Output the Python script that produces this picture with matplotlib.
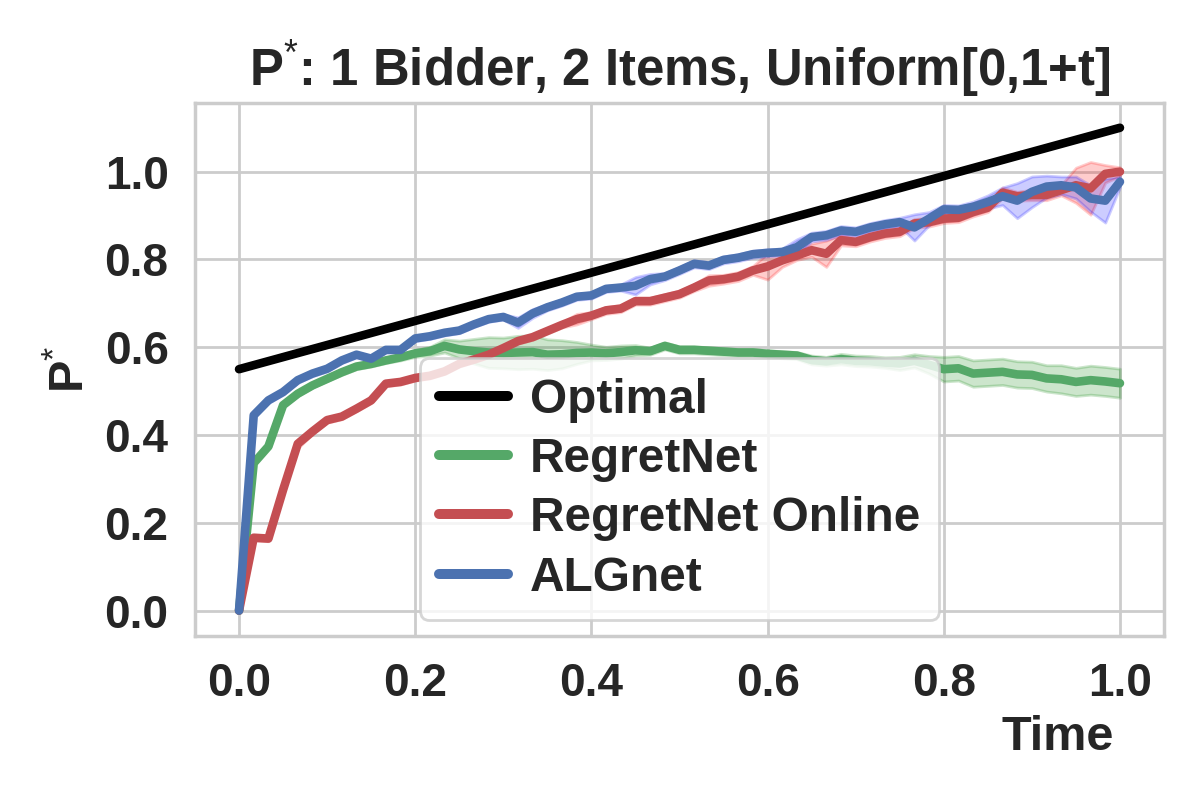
import numpy as np
import matplotlib
matplotlib.use("Agg")
import matplotlib.pyplot as plt
import seaborn as sns

sns.set_theme(style="whitegrid")
plt.rcParams['font.family'] = ['Liberation Sans', 'DejaVu Sans']
plt.rcParams['mathtext.fontset'] = 'custom'
plt.rcParams['mathtext.rm'] = 'Liberation Sans'
plt.rcParams['mathtext.it'] = 'Liberation Sans:italic'
plt.rcParams['mathtext.bf'] = 'Liberation Sans:bold'

# ---- data ----
time = np.linspace(0, 1, 61)

optimal_t = [0.0, 1.0]
optimal = [0.55, 1.10]

regretnet = [0.0, 0.336, 0.374, 0.468, 0.494, 0.513, 0.528, 0.543, 0.556, 0.562,
             0.570, 0.577, 0.586, 0.591, 0.603, 0.595, 0.591, 0.588, 0.587, 0.588,
             0.589, 0.583, 0.584, 0.587, 0.588, 0.586, 0.589, 0.593, 0.591, 0.603,
             0.594, 0.594, 0.592, 0.590, 0.588, 0.588, 0.585, 0.583, 0.581, 0.571,
             0.568, 0.573, 0.569, 0.568, 0.565, 0.563, 0.569, 0.560, 0.550, 0.552,
             0.540, 0.542, 0.544, 0.538, 0.537, 0.529, 0.527, 0.521, 0.525, 0.522,
             0.518]
regretnet_err = [0.0, .004, .004, .005, .005, .005, .005, .006, .006, .006,
                 .006, .007, .008, .010, .015, .020, .028, .035, .035, .038,
                 .038, .035, .032, .025, .018, .015, .015, .012, .008, .008,
                 .008, .008, .008, .008, .008, .008, .008, .008, .008, .010,
                 .010, .012, .012, .012, .012, .015, .015, .020, .028, .028,
                 .030, .030, .030, .030, .030, .030, .032, .032, .033, .033,
                 .033]

regretnet_online = [0.0, 0.166, 0.164, 0.275, 0.380, 0.408, 0.434, 0.442, 0.460, 0.479,
                    0.517, 0.521, 0.530, 0.535, 0.545, 0.562, 0.572, 0.583, 0.598, 0.614,
                    0.623, 0.637, 0.651, 0.664, 0.672, 0.684, 0.688, 0.705, 0.705, 0.713,
                    0.721, 0.736, 0.752, 0.755, 0.761, 0.775, 0.784, 0.798, 0.809, 0.821,
                    0.813, 0.844, 0.840, 0.851, 0.859, 0.863, 0.882, 0.885, 0.893, 0.895,
                    0.908, 0.918, 0.952, 0.944, 0.947, 0.947, 0.958, 0.969, 0.962, 0.995,
                    1.000]
regretnet_online_err = [0.0, .006, .006, .010, .010, .006, .006, .006, .006, .006,
                        .006, .006, .006, .006, .006, .006, .006, .006, .006, .006,
                        .006, .006, .006, .012, .008, .008, .008, .008, .008, .008,
                        .008, .008, .012, .010, .010, .010, .030, .015, .010, .015,
                        .030, .012, .010, .010, .010, .010, .010, .010, .010, .010,
                        .010, .010, .012, .010, .012, .012, .012, .040, .060, .020,
                        .010]

algnet = [0.0, 0.445, 0.479, 0.498, 0.525, 0.540, 0.551, 0.570, 0.583, 0.574,
          0.594, 0.594, 0.620, 0.625, 0.633, 0.638, 0.652, 0.664, 0.669, 0.656,
          0.677, 0.691, 0.702, 0.715, 0.718, 0.733, 0.736, 0.740, 0.755, 0.761,
          0.775, 0.790, 0.786, 0.799, 0.804, 0.812, 0.815, 0.817, 0.828, 0.851,
          0.855, 0.866, 0.863, 0.873, 0.880, 0.885, 0.873, 0.893, 0.914, 0.913,
          0.920, 0.931, 0.944, 0.934, 0.954, 0.966, 0.969, 0.964, 0.939, 0.934,
          0.977]
algnet_err = [0.0, .006, .006, .006, .006, .006, .006, .006, .006, .006,
              .006, .006, .006, .006, .006, .006, .006, .006, .006, .012,
              .010, .007, .007, .007, .007, .007, .007, .020, .012, .008,
              .008, .008, .008, .008, .008, .008, .008, .008, .018, .010,
              .010, .010, .010, .010, .010, .010, .030, .015, .010, .010,
              .012, .015, .020, .040, .035, .025, .020, .025, .030, .050,
              .012]

labels = ["Optimal", "RegretNet", "RegretNet Online", "ALGnet"]
line_colors = ["black", "#55A868", "#C44E52", "#4C72B0"]
band_colors = ["green", "red", "blue"]

# ---- plot ----
fig = plt.figure(figsize=(6, 4), dpi=200)
ax = fig.add_axes([0.1625, 0.2055, 0.8075, 0.6655])

ax.plot(optimal_t, optimal, color=line_colors[0], lw=3.1, label=labels[0],
        solid_capstyle='round')

series = [regretnet, regretnet_online, algnet]
errs = [regretnet_err, regretnet_online_err, algnet_err]
for k, (vals, err) in enumerate(zip(series, errs)):
    v = np.array(vals)
    e = np.array(err)
    ax.fill_between(time, v - e, v + e, color=band_colors[k], alpha=0.2, lw=1)
    ax.plot(time, v, color=line_colors[k + 1], lw=3.1, label=labels[k + 1],
            solid_capstyle='round', solid_joinstyle='round')

ax.set_xlim(-0.05, 1.05)
ax.set_ylim(-0.057, 1.156)
ax.set_xticks([0.0, 0.2, 0.4, 0.6, 0.8, 1.0])
ax.set_yticks([0.0, 0.2, 0.4, 0.6, 0.8, 1.0])
ax.xaxis.set_major_formatter(matplotlib.ticker.FormatStrFormatter('%.1f'))
ax.yaxis.set_major_formatter(matplotlib.ticker.FormatStrFormatter('%.1f'))
ax.tick_params(axis='both', length=0, pad=9.5, labelsize=16.5, labelcolor='#262626')
for lab in ax.get_xticklabels() + ax.get_yticklabels():
    lab.set_fontweight('bold')

ax.set_title(r"P$^{*}$: 1 Bidder, 2 Items, Uniform[0,1+t]", fontsize=18.3,
             fontweight='bold', color='#262626', pad=6)
ax.set_ylabel(r"P$^{*}$", fontsize=17.5, fontweight='bold', color='#262626')
ax.set_xlabel("Time", fontsize=17.5, fontweight='bold', color='#262626')
ax.xaxis.set_label_coords(0.89, -0.15)

for sp in ax.spines.values():
    sp.set_color('#cccccc')
    sp.set_linewidth(1.25)

leg = ax.legend(loc='lower center', bbox_to_anchor=(0.5, 0.03), borderaxespad=0,
                prop={'weight': 'bold', 'size': 17.2}, handlelength=1.45,
                handletextpad=0.45, labelspacing=0.3,
                frameon=True, framealpha=0.8)
for line in leg.get_lines():
    line.set_linewidth(3.6)
for t in leg.get_texts():
    t.set_color('#262626')

fig.savefig("out.png", dpi=200)
